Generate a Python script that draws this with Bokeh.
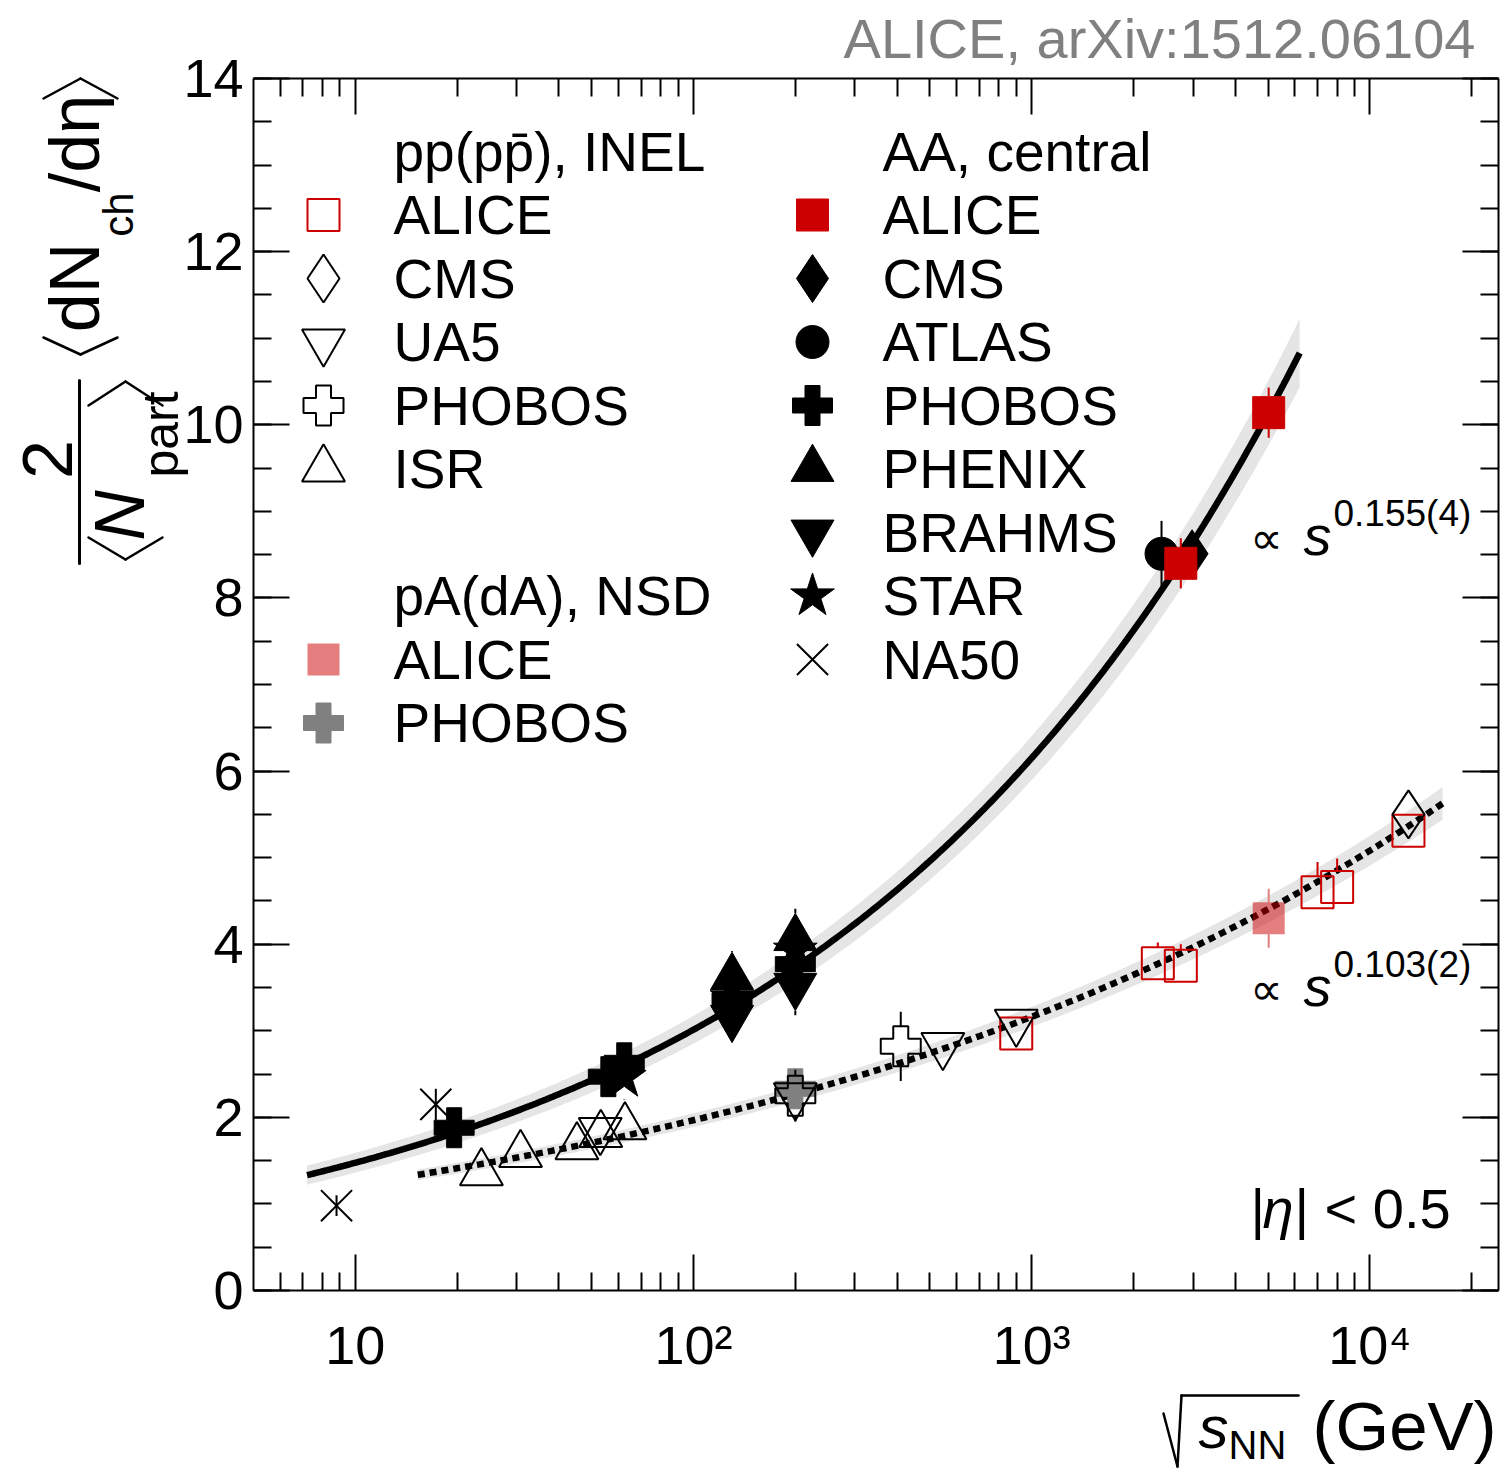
import numpy as np
from math import pi
from bokeh.plotting import figure
from bokeh.models import (LogAxis, LinearAxis, FixedTicker, SingleIntervalTicker, Label, Arrow,
                          CustomJSTickFormatter)
from bokeh.embed import file_html
from bokeh.resources import INLINE

# ---------------- data ----------------
# pp(pp-bar), INEL
pp_alice_x = [900, 2360, 2760, 7000, 8000, 13000]
pp_alice_y = [2.97, 3.78, 3.75, 4.60, 4.66, 5.31]
pp_alice_eup = [0.10, 0.24, 0.25, 0.35, 0.33, 0.12]
pp_alice_elo = [0.10, 0.10, 0.10, 0.13, 0.13, 0.12]
pp_cms_x = [13000]
pp_cms_y = [5.50]
pp_ua5_x = [53, 200, 546, 900]
pp_ua5_y = [1.85, 2.25, 2.83, 3.10]
pp_phobos_x = [200, 410]
pp_phobos_y = [2.25, 2.82]
pp_phobos_err = [0.30, 0.40]
pp_isr_x = [23.6, 30.8, 45.2, 53.2, 62.7]
pp_isr_y = [1.36, 1.57, 1.66, 1.80, 1.89]
# pA(dA), NSD
pa_alice_x = [5020]
pa_alice_y = [4.30]
pa_alice_err = [0.34]
pa_phobos_x = [200]
pa_phobos_y = [2.33]
# AA, central
aa_alice_x = [2760, 5020]
aa_alice_y = [8.40, 10.14]
aa_alice_err = [0.29, 0.29]
aa_cms_x = [2980]
aa_cms_y = [8.51]
aa_atlas_x = [2420]
aa_atlas_y = [8.51]
aa_atlas_err = [0.38]
aa_phobos_x = [19.6, 56, 62.4, 130, 200]
aa_phobos_y = [1.88, 2.47, 2.63, 3.35, 3.77]
aa_phenix_x = [130, 200]
aa_phenix_y = [3.62, 4.07]
aa_phenix_err = [0.30, 0.34]
aa_brahms_x = [130, 200]
aa_brahms_y = [3.15, 3.52]
aa_brahms_err = [0.25, 0.34]
aa_star_x = [62.4, 130, 200]
aa_star_y = [2.46, 3.38, 3.93]
aa_star_err = [0.26, 0.20, 0.20]
aa_na50_x = [8.8, 17.3]
aa_na50_y = [0.98, 2.15]
aa_na50_err = [0.12, 0.18]
# power-law fits  dN/deta ~ s^exp  (sqrt(s) in GeV)
aa_fit_norm, aa_fit_exp, aa_fit_range = 0.7227, 0.155, (7.2, 6200)
pp_fit_norm, pp_fit_exp, pp_fit_range = 0.762, 0.103, (15.3, 16400)
aa_band_abs, aa_band_rel = 0.07, 0.03
pp_band_abs, pp_band_rel = 0.02, 0.03

xtick_vals = [10, 100, 1000, 10000]
xtick_labels = ["10", "10\u00b2", "10\u00b3", "10\u2074"]

# ---------------- layout ----------------
FONT = "Liberation Sans"
RED = "#cc0000"
W, H = 1506, 1472
FL, FR, FT, FB = 253, 1498, 78, 1290          # inner plot box, canvas pixels
XMIN, XMAX, YMIN, YMAX = 5, 24000, 0, 14
PPU = (FB - FT) / (YMAX - YMIN)
LX0 = np.log10(XMIN)
SLOPE = (np.log10(XMAX) - LX0) / (FR - FL)
x_start = 10 ** (LX0 - FL * SLOPE)
x_end = 10 ** (LX0 + (W - FL) * SLOPE)
y_start = YMIN - (H - FB) / PPU
y_end = YMAX + FT / PPU

p = figure(width=W, height=H, x_axis_type="log", x_axis_location=None, y_axis_location=None,
           x_range=(x_start, x_end), y_range=(y_start, y_end),
           output_backend="svg", toolbar_location=None,
           min_border_left=0, min_border_right=0, min_border_top=0, min_border_bottom=0)
p.xgrid.visible = False
p.ygrid.visible = False
p.outline_line_color = None
p.background_fill_color = "white"
p.border_fill_color = "white"

xminor = [m * 10 ** e for e in range(0, 5) for m in range(2, 10) if XMIN < m * 10 ** e < XMAX]
xticker = FixedTicker(ticks=xtick_vals, minor_ticks=xminor)
yticker = SingleIntervalTicker(interval=2, num_minor_ticks=4)
blank = CustomJSTickFormatter(code="return '';")

def style_axis(ax):
    ax.major_tick_in = 36
    ax.major_tick_out = 0
    ax.minor_tick_in = 18
    ax.minor_tick_out = 0
    ax.major_tick_line_width = 2
    ax.minor_tick_line_width = 2
    ax.axis_line_width = 2
    ax.major_tick_line_color = "black"
    ax.minor_tick_line_color = "black"
    ax.axis_line_color = "black"
    ax.major_label_text_font = FONT
    ax.major_label_text_color = "black"
    ax.major_label_text_font_size = "54px"

xa = LogAxis(ticker=xticker, fixed_location=YMIN, bounds=(XMIN, XMAX),
             formatter=CustomJSTickFormatter(args=dict(vals=xtick_vals, labs=xtick_labels),
                                             code="const i = vals.indexOf(tick); return i >= 0 ? labs[i] : '';"))
style_axis(xa)
xa.major_label_standoff = 24
p.add_layout(xa, "below")

ya = LinearAxis(ticker=yticker, fixed_location=XMIN, bounds=(YMIN, YMAX))
style_axis(ya)
ya.major_label_standoff = 10
p.add_layout(ya, "left")

top = LogAxis(ticker=xticker, fixed_location=YMAX, bounds=(XMIN, XMAX), formatter=blank)
style_axis(top)
p.add_layout(top, "above")
right = LinearAxis(ticker=yticker, fixed_location=XMAX, bounds=(YMIN, YMAX), formatter=blank)
style_axis(right)
p.add_layout(right, "right")

# ---------------- helpers ----------------
def xd(X):
    return 10 ** (LX0 + (X - FL) * SLOPE)

def yd(Y):
    return (FB - Y) / PPU

def lab(text, X, Y, size, align="left", angle=0.0, style="normal", color="black", font=FONT):
    # X, Y: canvas pixels of the anchor; Y is the vertical middle of the text
    p.add_layout(Label(x=X, y=H - Y, x_units="screen", y_units="screen", text=text,
                       text_font=font, text_font_size=f"{size}px", text_align=align,
                       text_baseline="middle", angle=angle, text_font_style=style, text_color=color))

def seg(pts, w=2.5):
    for (X0, Y0), (X1, Y1) in zip(pts[:-1], pts[1:]):
        p.add_layout(Arrow(end=None, x_start=X0, y_start=H - Y0, x_end=X1, y_end=H - Y1,
                           start_units="screen", end_units="screen", line_width=w, line_color="black",
                           line_cap="round"))

def errbars(xs, ys, eup, elo, hup_px, hlo_px, color):
    x0, y0, y1 = [], [], []
    for x, y, u, l in zip(xs, ys, eup, elo):
        hu, hl = hup_px / PPU, hlo_px / PPU
        if u > hu:
            x0.append(x); y0.append(y + hu); y1.append(y + u)
        if l > hl:
            x0.append(x); y0.append(y - l); y1.append(y - hl)
    if x0:
        p.segment(x0=x0, y0=y0, x1=x0, y1=y1, line_color=color, line_width=2)

# marker styles
S = {
    "pp_alice": dict(marker="square", size=32, fill_alpha=0, line_color=RED, line_width=2),
    "pp_cms": dict(marker="diamond", size=48, fill_alpha=0, line_color="black", line_width=2),
    "pp_ua5": dict(marker="inverted_triangle", size=43, fill_alpha=0, line_color="black", line_width=2),
    "pp_phobos": dict(marker="plus", size=40, fill_alpha=0, line_color="black", line_width=2),
    "pp_isr": dict(marker="triangle", size=43, fill_alpha=0, line_color="black", line_width=2),
    "pa_alice": dict(marker="square", size=32, fill_color=RED, fill_alpha=0.5, line_alpha=0),
    "pa_phobos": dict(marker="plus", size=40, fill_color="#808080", line_color="#808080", line_width=1),
    "aa_alice": dict(marker="square", size=32, fill_color=RED, line_color=RED, line_width=1),
    "aa_cms": dict(marker="diamond", size=48, fill_color="black", line_color="black", line_width=1),
    "aa_atlas": dict(marker="circle", size=33, fill_color="black", line_color="black", line_width=1),
    "aa_phobos": dict(marker="plus", size=40, fill_color="black", line_color="black", line_width=1),
    "aa_phenix": dict(marker="triangle", size=43, fill_color="black", line_color="black", line_width=1),
    "aa_brahms": dict(marker="inverted_triangle", size=43, fill_color="black", line_color="black", line_width=1),
    "aa_star": dict(marker="star", size=46, fill_color="black", line_color="black", line_width=1),
    "aa_na50": dict(marker="x", size=44, line_color="black", line_width=2),
}

# ---------------- fits ----------------
aa_fx = np.geomspace(aa_fit_range[0], aa_fit_range[1], 300)
aa_fy = aa_fit_norm * aa_fx ** (2 * aa_fit_exp)
aa_hw = aa_band_abs + aa_band_rel * aa_fy
pp_fx = np.geomspace(pp_fit_range[0], pp_fit_range[1], 300)
pp_fy = pp_fit_norm * pp_fx ** (2 * pp_fit_exp)
pp_hw = pp_band_abs + pp_band_rel * pp_fy
p.varea(x=aa_fx, y1=aa_fy - aa_hw, y2=aa_fy + aa_hw, fill_color="#e5e5e5")
p.varea(x=pp_fx, y1=pp_fy - pp_hw, y2=pp_fy + pp_hw, fill_color="#e5e5e5")
p.line(aa_fx, aa_fy, line_width=6.5, line_color="black")
p.line(pp_fx, pp_fy, line_width=6.5, line_color="black", line_dash="7 5")

# ---------------- data points ----------------
p.scatter(pa_phobos_x, pa_phobos_y, **S["pa_phobos"])
errbars(pa_alice_x, pa_alice_y, pa_alice_err, pa_alice_err, 16, 16, "#e07f7f")
p.scatter(pa_alice_x, pa_alice_y, **S["pa_alice"])

errbars(pp_alice_x, pp_alice_y, pp_alice_eup, pp_alice_elo, 16, 16, RED)
p.scatter(pp_alice_x, pp_alice_y, **S["pp_alice"])
p.scatter(pp_cms_x, pp_cms_y, **S["pp_cms"])
p.scatter(pp_ua5_x, pp_ua5_y, **S["pp_ua5"])
errbars(pp_phobos_x, pp_phobos_y, pp_phobos_err, pp_phobos_err, 20, 20, "black")
p.scatter(pp_phobos_x, pp_phobos_y, **S["pp_phobos"])
p.scatter(pp_isr_x, pp_isr_y, **S["pp_isr"])

errbars(aa_na50_x, aa_na50_y, aa_na50_err, aa_na50_err, 0, 0, "black")
p.scatter(aa_na50_x, aa_na50_y, **S["aa_na50"])
errbars(aa_star_x, aa_star_y, aa_star_err, aa_star_err, 22, 22, "black")
p.scatter(aa_star_x, aa_star_y, **S["aa_star"])
p.scatter(aa_phobos_x, aa_phobos_y, **S["aa_phobos"])
errbars(aa_phenix_x, aa_phenix_y, aa_phenix_err, aa_phenix_err, 25, 12, "black")
p.scatter(aa_phenix_x, aa_phenix_y, **S["aa_phenix"])
errbars(aa_brahms_x, aa_brahms_y, aa_brahms_err, aa_brahms_err, 12, 25, "black")
p.scatter(aa_brahms_x, aa_brahms_y, **S["aa_brahms"])
errbars(aa_atlas_x, aa_atlas_y, aa_atlas_err, aa_atlas_err, 16, 16, "black")
p.scatter(aa_atlas_x, aa_atlas_y, **S["aa_atlas"])
p.scatter(aa_cms_x, aa_cms_y, **S["aa_cms"])
errbars(aa_alice_x, aa_alice_y, aa_alice_err, aa_alice_err, 16, 16, RED)
p.scatter(aa_alice_x, aa_alice_y, **S["aa_alice"])

# ---------------- legend ----------------
ROW0, DY = 151, 63.5
LMX, LTX, RMX, RTX = 323, 393, 812, 882
left_rows = [("pp(pp\u0304), INEL", None), ("ALICE", "pp_alice"), ("CMS", "pp_cms"), ("UA5", "pp_ua5"),
             ("PHOBOS", "pp_phobos"), ("ISR", "pp_isr"), (None, None), ("pA(dA), NSD", None),
             ("ALICE", "pa_alice"), ("PHOBOS", "pa_phobos")]
right_rows = [("AA, central", None), ("ALICE", "aa_alice"), ("CMS", "aa_cms"), ("ATLAS", "aa_atlas"),
              ("PHOBOS", "aa_phobos"), ("PHENIX", "aa_phenix"), ("BRAHMS", "aa_brahms"),
              ("STAR", "aa_star"), ("NA50", "aa_na50")]
for rows, mx, tx in ((left_rows, LMX, LTX), (right_rows, RMX, RTX)):
    for i, (txt, key) in enumerate(rows):
        cy = ROW0 + DY * i
        if txt:
            lab(txt, tx, cy, 55)
        if key:
            p.scatter([xd(mx)], [yd(cy)], **S[key])

# ---------------- texts ----------------
lab("ALICE, arXiv:1512.06104", 1475, 38, 56, align="right", color="#808080")

lab("\u221d", 1266, 537, 46, align="center", font="DejaVu Sans")
lab("s", 1303, 535, 56, style="italic")
lab("0.155(4)", 1333, 513, 37)
lab("\u221d", 1266, 988, 46, align="center", font="DejaVu Sans")
lab("s", 1303, 986, 56, style="italic")
lab("0.103(2)", 1333, 964, 37)

lab("|", 1250, 1208, 56)
lab("\u03b7", 1262, 1208, 56, style="italic")
lab("| < 0.5", 1294, 1208, 56)

# x-axis title  sqrt(s_NN) (GeV)
seg([(1163, 1413), (1177, 1466), (1181, 1395), (1298, 1395)], 2.5)
lab("s", 1198, 1427, 60, style="italic")
lab("NN", 1228, 1444, 40)
lab("(GeV)", 1312, 1426, 69)

# y-axis title  2/<N_part> <dN_ch/deta>
A = pi / 2
lab("2", 47, 459, 70, align="center", angle=A)
seg([(79, 380), (79, 563)], 3)
lab("N", 119, 515, 70, align="center", angle=A, style="italic")
lab("part", 160, 434, 50, align="center", angle=A)
seg([(88, 405), (125, 381), (162, 405)], 2.5)
seg([(88, 537), (125, 559), (162, 537)], 2.5)
lab("dN", 74, 287, 70, align="center", angle=A)
lab("ch", 118, 214, 42, align="center", angle=A)
lab("/d\u03b7", 74, 143, 70, align="center", angle=A)
seg([(43, 337), (80, 354), (117, 337)], 2.5)
seg([(43, 98), (80, 78), (117, 98)], 2.5)

open("out.html", "w").write(file_html(p, INLINE))
